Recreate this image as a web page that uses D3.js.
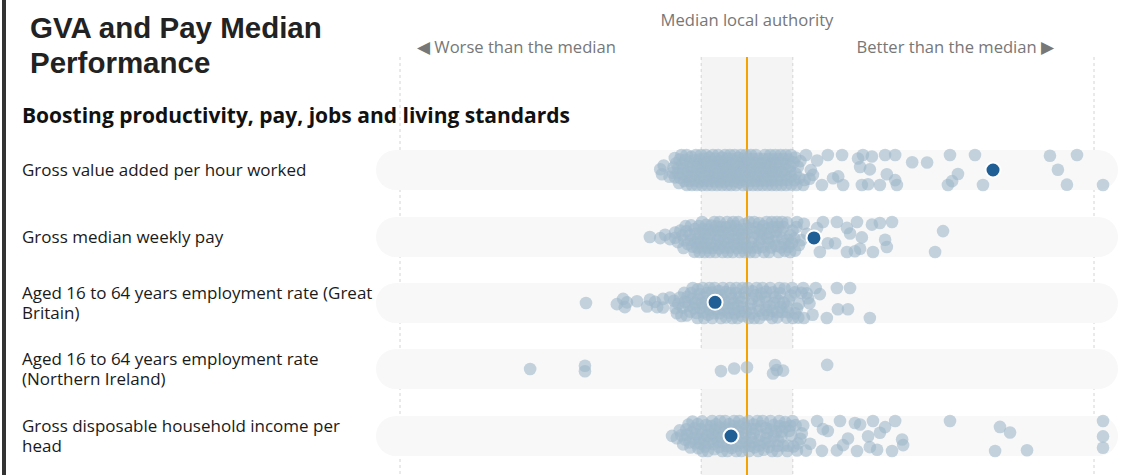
<!DOCTYPE html>
<html lang="en">
<head>
  <meta charset="UTF-8">
  <title>GVA and Pay Median Performance</title>
  <script src="https://d3js.org/d3.v7.min.js"></script>
  <style>
    body {
      margin: 0;
      background: #fff;
      overflow: hidden;
    }
    svg { display: block; }
    .title { font-family: "Liberation Sans", Arial, sans-serif; font-weight: bold; font-size: 29.5px; fill: #222; }
    .section { font-family: "Open Sans", sans-serif; font-weight: 700; font-size: 21px; fill: #111; }
    .label { font-family: "Open Sans", sans-serif; font-weight: 500; font-size: 17px; fill: #1a1a1a; }
    .note { font-family: "Open Sans", sans-serif; font-size: 16.6px; fill: #777; }
    .dot { fill: #9fb8c9; fill-opacity: 0.6; }
    .hl { fill: #1f5f96; stroke: #fff; stroke-width: 2; }
  </style>
</head>
<body>
<svg id="chart"></svg>
<script>
const width = 1134, height = 475;

// values: difference from the median local authority, scaled so that -100 / 100 sit on the dashed guides
const rowLabels = [
  ["Gross value added per hour worked"],
  ["Gross median weekly pay"],
  ["Aged 16 to 64 years employment rate (Great", "Britain)"],
  ["Aged 16 to 64 years employment rate", "(Northern Ireland)"],
  ["Gross disposable household income per", "head"]
];

const gvaValues = [
  -25, -24.5, -24, -22.3, -21.4, -21, -20.6, -20.2, -19.8, -19.5, -19.1, -18.7, -18.4, -18, -17.7, -17.3, -17,
  -16.6, -16.3, -16, -15.6, -15.3, -15, -14.7, -14.4, -14.1, -13.8, -13.5, -13.2, -12.9, -12.6, -12.3, -12,
  -11.7, -11.4, -11.1, -10.8, -10.5, -10.2, -9.9, -9.6, -9.3, -9, -8.7, -8.4, -8.1, -7.8, -7.5, -7.2, -6.9,
  -6.6, -6.3, -6, -5.7, -5.4, -5.1, -4.8, -4.5, -4.2, -3.9, -3.6, -3.3, -3, -2.7, -2.4, -2.1, -1.8, -1.5,
  -1.2, -0.9, -0.6, -0.3, -13.4, -11.9, -10.1, -8.8, -7.1, -5.9, -4.3, -2.8, -1.4, -16.2, -12.4, -9.4, -6.4, -3.4,
  -20.8, -19.6, -18.9, -17.9, -17.1, -16.8, -15.9, -15.1, -14.5, -13.9, -13.1, -12.7, -12.1, -11.6, -11.2,
  -10.6, -10, -9.5, -9.1, -8.5, -8, -7.6, -7, -6.5, -6.1, -5.5, -5, -4.6, -4, -3.5, -3.1, -2.5, -2, -1.6, -1,
  0.3, 0.8, 1.3, 1.8, 2.3, 2.8, 3.3, 3.8, 4.3, 4.8, 5.3, 5.8, 6.3, 6.8, 7.3, 7.8, 8.3, 8.8, 9.3, 9.8,
  10.4, 11, 11.6, 12.2, 12.8, 13.4, 14, 14.7, 15.4, 16.2, 17, 18, 19, 1.1, 3.1, 5.1, 7.1, 9.1, 11.3, 13.6,
  0.5, 1, 1.6, 2.1, 2.6, 3.1, 3.6, 4.1, 4.6, 5.1, 5.6, 6.1, 6.6, 7.1, 7.6, 8.1, 8.6, 9.1, 9.6, 10.1, 10.8,
  11.4, 12, 12.6, 13.2, 14, 15, 2, 4, 6, 8, 10.5, 12.4, 16.6, 18.4, 0.1, 1.4, 2.6, 3.9, 5.2, 6.5, 7.9, 9.4,
  20.2, 21.6, 23.3, 24.8, 26.3, 27.4, 27.7, 32, 32.6, 33.1, 33.4, 34.9, 35.4, 36, 38.3, 39.8, 40.3, 42.7,
  42.7, 43.2, 47.6, 51.9, 57.9, 58.5, 59.1, 60.8, 65.7, 68, 87.3, 89.6, 92.2, 95.1, 102.6
];
const payValues = [
  -28, -25, -23.6, -22.2, -20.7, -20.7, -19.9, -19.2, -18.6, -18, -17.4, -16.9, -16.4, -15.9, -15.4, -14.9,
  -14.4, -13.9, -13.5, -13.1, -12.7, -12.3, -11.9, -11.5, -11.1, -10.7, -10.3, -9.9, -9.5, -9.1, -8.7, -8.3,
  -7.9, -7.5, -7.1, -6.7, -6.3, -5.9, -5.5, -5.1, -4.7, -4.3, -3.9, -3.5, -3.1, -2.7, -2.3, -1.9, -1.5, -1.1,
  -0.7, -0.3, -17.7, -15.1, -12.1, -9.3, -6.1, -3.3, -0.9, -13.3, -10.5, -7.7, -4.9, -2.1, -11.3, -8.1,
  -18.3, -16.1, -14.6, -13.6, -12.5, -11.7, -10.9, -10, -9.2, -8.5, -7.3, -6.5, -5.7, -4.5, -3.7, -2.5, -1.7,
  -0.5, -14.1, -12.9, -9.7, -6.9, -4.1, -1.3,
  0.2, 0.7, 1.2, 1.7, 2.2, 2.7, 3.2, 3.7, 4.2, 4.7, 5.2, 5.7, 6.2, 6.7, 7.2, 7.7, 8.2, 8.7, 9.2, 9.7,
  10.2, 10.8, 11.4, 12, 12.6, 13.2, 13.8, 14.4, 15, 15.7, 16.4, 0.9, 2.9, 4.9, 6.9, 8.9, 11.1, 13.5,
  0.4, 1.5, 2.5, 3.5, 4.4, 5.5, 6.4, 7.5, 8.4, 9.5, 10.5, 11.7, 12.9, 14.1, 1.9, 4, 6, 8, 10, 12.3,
  17.3, 20.2, 21, 21.9, 23.3, 25.4, 25.9, 28.8, 28.8, 29.7, 31.1, 31.7, 32.6, 33.1, 36, 36.3, 38.3, 39.8,
  40.3, 41.8, 54.2, 56.5
];
const empGbValues = [
  -46.4, -37.5, -35.7, -35.2, -34.6, -31.7, -28.8, -28, -26.5, -25.9, -24.2, -24.2, -22.2, -21, -20.2, -19.3,
  -18.5, -17.8, -17.1, -16.4, -15.8, -15.2, -14.6, -14, -13.4, -12.9, -12.4, -11.9, -11.4, -10.9, -10.4, -9.9,
  -9.4, -8.9, -8.4, -7.9, -7.4, -6.9, -6.4, -5.9, -5.4, -4.9, -4.4, -3.9, -3.4, -2.9, -2.4, -1.9, -1.4, -0.9,
  -0.4, -16.8, -13.7, -11.1, -8.2, -5.2, -2.6, -15.5, -12.2, -9.6, -6.6, -3.6, -1.2,
  -20.6, -19.8, -18.1, -17.4, -16.1, -14.9, -14.3, -13.1, -12.6, -11.6, -10.6, -10.1, -9.1, -8.6, -7.6, -7.1,
  -6.1, -5.6, -4.6, -4.1, -3.1, -2.1, -1.6, -0.6, -18.9, -13.9, -8.9, -3.8,
  0.2, 0.7, 1.2, 1.7, 2.2, 2.7, 3.2, 3.7, 4.2, 4.7, 5.2, 5.7, 6.2, 6.7, 7.2, 7.7, 8.2, 8.7, 9.2, 9.7,
  10.2, 10.8, 11.4, 12, 12.6, 13.2, 13.8, 14.4, 15, 15.7, 16.4, 17.2, 18, 18.9, 19.8, 1.4, 3.4, 5.4, 7.4,
  9.4, 11.6, 13.9, 16.2, 0.5, 1.5, 2.5, 3.5, 4.5, 5.5, 6.5, 7.5, 8.5, 9.5, 10.5, 11.8, 13, 14.8, 17.6,
  21, 23, 25.9, 26.2, 29.1, 29.7, 35.4
];
const empNiValues = [-62.5, -46.7, -46.7, -7.5, -3.7, 0, 7.5, 8.1, 8.6, 10.4, 23.1];
const gdhiValues = [
  -21.6, -20.2, -19.4, -18.4, -17.8, -17.2, -16.6, -16, -15.4, -14.8, -14.2, -13.7, -13.2, -12.7, -12.2, -11.7,
  -11.2, -10.7, -10.2, -9.7, -9.2, -8.7, -8.2, -7.7, -7.2, -6.7, -6.2, -5.7, -5.2, -4.7, -4.2, -3.7, -3.2,
  -2.7, -2.2, -1.7, -1.2, -0.7, -0.3, -15.1, -12.4, -9.9, -7.4, -5, -2.5, -13.9, -11, -8.5, -6, -3.5, -1,
  -18.9, -17.5, -16.3, -15.7, -14.5, -13.4, -12.9, -11.9, -10.9, -10.4, -9.4, -8.9, -7.9, -6.9, -6.4, -5.5,
  -4.5, -3.9, -2.9, -2, -1.5, -0.5, -16.9, -11.4, -8, -4, -0.9,
  0.3, 0.8, 1.3, 1.8, 2.3, 2.8, 3.3, 3.8, 4.3, 4.8, 5.3, 5.8, 6.3, 6.8, 7.3, 7.8, 8.3, 8.8, 9.3, 9.8,
  10.4, 11, 11.6, 12.2, 12.8, 13.4, 14, 14.7, 15.4, 16.2, 17, 2.1, 5.6, 9.1, 12.5,
  0.6, 1.6, 2.6, 3.5, 4.5, 5.5, 6.6, 7.6, 8.6, 9.6, 10.7, 11.9, 13.1, 14.4, 15.8, 1.1, 3.1, 7.1, 10.1,
  18.2, 20.2, 21.6, 21.9, 23.3, 25.9, 26.8, 27.7, 29.1, 31.1, 31.7, 32.6, 34.9, 35.4, 36.3, 37.5, 38.3,
  39.8, 41.8, 42.7, 44.7, 45, 58.5, 71.5, 72.9, 75.8, 80.7, 102.6, 102.6, 102.6
];
const rowValues = [gvaValues, payValues, empGbValues, empNiValues, gdhiValues];
// the selected local authority, one per row (null where it has no value)
const highlightValues = [70.9, 19.3, -9.2, null, -4.6];

const svg = d3.select("#chart").attr("width", width).attr("height", height);

const x = d3.scaleLinear().domain([-100, 100]).range([400, 1094]);
const bandHalf = 13.2;
const rowCentres = [170, 237, 303, 369, 436];
const plotTop = 57;

// left border
svg.append("rect").attr("x", 2).attr("y", 0).attr("width", 4).attr("height", height).attr("fill", "#333");

// title
svg.append("text").attr("class", "title").attr("x", 30).attr("y", 38).text("GVA and Pay Median");
svg.append("text").attr("class", "title").attr("x", 30).attr("y", 73).text("Performance");

// median band + guides
svg.append("rect")
  .attr("x", x(-bandHalf)).attr("y", plotTop)
  .attr("width", x(bandHalf) - x(-bandHalf)).attr("height", height - plotTop)
  .attr("fill", "#f4f4f4");

[-100, -bandHalf, bandHalf, 100].forEach(v => {
  svg.append("line")
    .attr("x1", x(v)).attr("x2", x(v))
    .attr("y1", plotTop).attr("y2", height)
    .attr("stroke", "#d4d4d4").attr("stroke-dasharray", "3,3");
});

svg.append("text").attr("class", "note")
  .attr("x", x(0)).attr("y", 26).attr("text-anchor", "middle")
  .text("Median local authority");
svg.append("text").attr("class", "note")
  .attr("x", 417).attr("y", 53)
  .text("\u25C0 Worse than the median");
svg.append("text").attr("class", "note")
  .attr("x", 1054).attr("y", 53).attr("text-anchor", "end")
  .text("Better than the median \u25B6");

svg.append("text").attr("class", "section")
  .attr("x", 22).attr("y", 123)
  .text("Boosting productivity, pay, jobs and living standards");

// row backgrounds
rowCentres.forEach(cy => {
  svg.append("rect")
    .attr("x", 376).attr("y", cy - 20)
    .attr("width", 1118 - 376).attr("height", 40)
    .attr("rx", 20)
    .attr("fill", "#f8f8f8");
});

// median line
svg.append("line")
  .attr("x1", x(0)).attr("x2", x(0))
  .attr("y1", plotTop).attr("y2", height)
  .attr("stroke", "#f5a300").attr("stroke-width", 2);

// row labels, wrapped lines as tspans of one text
rowLabels.forEach((lines, i) => {
  const cy = rowCentres[i];
  const t = svg.append("text").attr("class", "label")
    .attr("x", 22).attr("y", cy + 6 - (lines.length - 1) * 10);
  lines.forEach((l, j) => {
    t.append("tspan").attr("x", 22).attr("dy", j ? 20 : 0).text(l);
  });
});

// dots: force layout keeps them on their value and lets them drift inside the row
const r = 6.3, spread = 15;
rowValues.forEach((vals, i) => {
  const cy = rowCentres[i];
  const nodes = vals.map(v => ({ v }));
  const sim = d3.forceSimulation(nodes)
    .force("x", d3.forceX(d => x(d.v)).strength(1))
    .force("collide", d3.forceCollide(2.6).strength(0.5))
    .stop();
  // squeeze d3's initial placement into the row
  nodes.forEach(n => { n.y = cy + n.y * 0.14; n.x = x(n.v); });
  for (let t = 0; t < 200; t++) {
    sim.tick();
    nodes.forEach(n => { n.y = Math.max(cy - spread, Math.min(cy + spread, n.y)); });
  }

  svg.append("g").selectAll("circle")
    .data(nodes)
    .join("circle")
    .attr("class", "dot")
    .attr("cx", d => d.x)
    .attr("cy", d => d.y)
    .attr("r", r);

  const hv = highlightValues[i];
  if (hv !== null) {
    // place the selected authority among its neighbours
    const near = nodes.filter(n => Math.abs(n.x - x(hv)) < 8);
    const hy = near.length ? d3.mean(near, n => n.y) : cy;
    svg.append("circle")
      .attr("class", "hl")
      .attr("cx", x(hv)).attr("cy", hy)
      .attr("r", 7.5);
  }
});
</script>
</body>
</html>
